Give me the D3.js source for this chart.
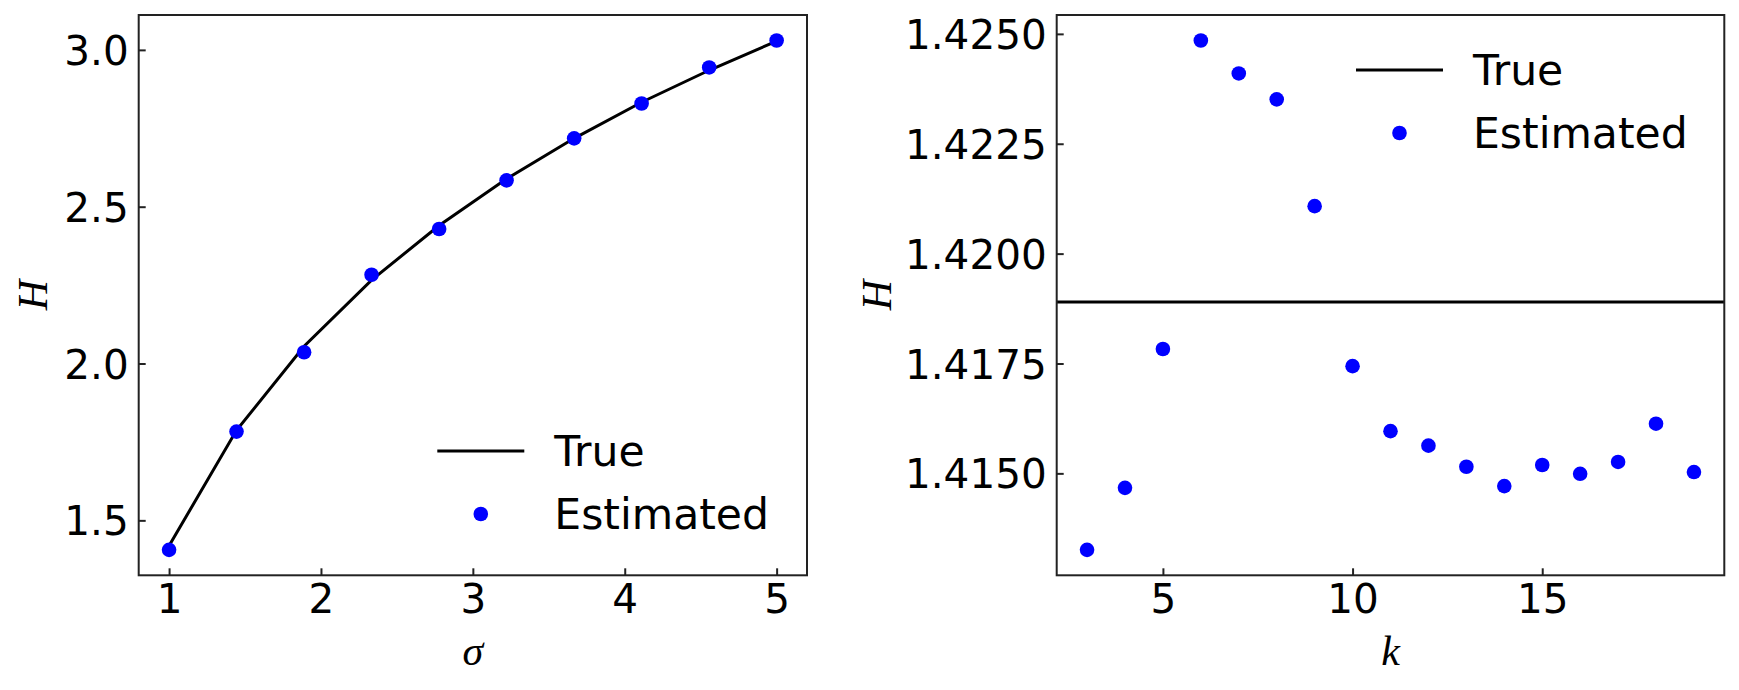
<!DOCTYPE html>
<html>
<head>
<meta charset="utf-8">
<script src="https://cdn.jsdelivr.net/npm/d3@7"></script>
<style>
    body { margin: 0; background: #fff; }
    svg { display: block; }
    .tick text { font-family: "DejaVu Sans", sans-serif; fill: #000; }
</style>
</head>
<body>
<div id="chart"></div>
<script>
// left panel: entropy H against sigma
const sigmaVals = [1, 1.444, 1.889, 2.333, 2.778, 3.222, 3.667, 4.111, 4.556, 5];
const hTrueSigma = [1.419, 1.787, 2.055, 2.266, 2.440, 2.589, 2.718, 2.833, 2.935, 3.028];
const hEstSigma = [1.406, 1.783, 2.036, 2.283, 2.429, 2.584, 2.718, 2.829, 2.944, 3.030];
const sigmaTicks = [1, 2, 3, 4, 5];
const hTicksLeft = [1.5, 2.0, 2.5, 3.0];

// right panel: entropy H against k
const kVals = [3, 4, 5, 6, 7, 8, 9, 10, 11, 12, 13, 14, 15, 16, 17, 18, 19];
const hEstK = [1.41326, 1.41467, 1.41783, 1.42485, 1.42410, 1.42351, 1.42108, 1.41744,
    1.41596, 1.41563, 1.41515, 1.41471, 1.41519, 1.41499, 1.41526, 1.41613, 1.41503];
const hTrueK = 1.4189;
const kTicks = [5, 10, 15];
const hTicksRight = [1.4150, 1.4175, 1.4200, 1.4225, 1.4250];

const W = 1739, H = 690;
const svg = d3.select("#chart").append("svg")
    .attr("width", W)
    .attr("height", H);

function padded(lo, hi) {
    // matplotlib style 5% margins
    const m = (hi - lo) * 0.05;
    return [lo - m, hi + m];
}

function drawPanel(o) {
    const box = o.box;
    const x = d3.scaleLinear().domain(o.xDomain).range([box.left, box.right]);
    const y = d3.scaleLinear().domain(o.yDomain).range([box.bottom, box.top]);
    const g = svg.append("g");

    const xAxis = d3.axisBottom(x).tickValues(o.xTicks).tickFormat(o.xFmt)
        .tickSizeInner(-7).tickSizeOuter(0).tickPadding(9);
    const yAxis = d3.axisLeft(y).tickValues(o.yTicks).tickFormat(o.yFmt)
        .tickSizeInner(-7).tickSizeOuter(0).tickPadding(10);

    const gx = g.append("g")
        .attr("transform", `translate(0,${box.bottom})`)
        .call(xAxis);
    const gy = g.append("g")
        .attr("transform", `translate(${box.left},0)`)
        .call(yAxis);
    [gx, gy].forEach(a => {
        a.select(".domain").remove();
        a.selectAll(".tick line").attr("stroke", "#222").attr("stroke-width", 2);
        a.selectAll(".tick text").style("font-size", "40.5px");
    });
    gy.selectAll(".tick text").attr("dy", "0.36em");

    // data
    if (o.lineData) {
        g.append("path")
            .datum(o.lineData)
            .attr("fill", "none")
            .attr("stroke", "#000")
            .attr("stroke-width", 3)
            .attr("d", d3.line().x(d => x(d[0])).y(d => y(d[1])));
    }
    if (o.hline !== undefined) {
        g.append("line")
            .attr("x1", box.left).attr("x2", box.right)
            .attr("y1", y(o.hline)).attr("y2", y(o.hline))
            .attr("stroke", "#000")
            .attr("stroke-width", 3);
    }
    g.append("g").selectAll("circle")
        .data(o.points)
        .join("circle")
        .attr("cx", d => x(d[0]))
        .attr("cy", d => y(d[1]))
        .attr("r", 7.3)
        .attr("fill", "#0000ff");

    // frame
    g.append("rect")
        .attr("x", box.left).attr("y", box.top)
        .attr("width", box.right - box.left)
        .attr("height", box.bottom - box.top)
        .attr("fill", "none")
        .attr("stroke", "#222")
        .attr("stroke-width", 2);

    // axis labels
    g.append("text")
        .attr("x", (box.left + box.right) / 2)
        .attr("y", 665)
        .attr("text-anchor", "middle")
        .style("font-family", "'Liberation Serif', serif")
        .style("font-style", "italic")
        .style("font-size", "42px")
        .text(o.xLabel);
    g.append("text")
        .attr("transform", `translate(${o.yLabelX},${(box.top + box.bottom) / 2}) rotate(-90)`)
        .attr("text-anchor", "middle")
        .style("font-family", "'Liberation Serif', serif")
        .style("font-style", "italic")
        .style("font-size", "42px")
        .text("H");

    // legend
    const lg = g.append("g").attr("transform", `translate(${o.legend[0]},${o.legend[1]})`);
    lg.append("line")
        .attr("x1", 0).attr("x2", 87)
        .attr("y1", 0).attr("y2", 0)
        .attr("stroke", "#000").attr("stroke-width", 3);
    lg.append("circle")
        .attr("cx", 43.5).attr("cy", 63)
        .attr("r", 7.3).attr("fill", "#0000ff");
    ["True", "Estimated"].forEach((t, i) => {
        lg.append("text")
            .attr("x", 117)
            .attr("y", 14.5 + i * 63)
            .style("font-family", "'DejaVu Sans', sans-serif")
            .style("font-size", "42.5px")
            .text(t);
    });
}

const leftBox = {left: 138.7, right: 807, top: 15, bottom: 575.3};
const rightBox = {left: 1056.7, right: 1724.3, top: 15, bottom: 575.3};

drawPanel({
    box: leftBox,
    xDomain: [0.8, 5.2],
    yDomain: padded(d3.min(hEstSigma), d3.max(hEstSigma)),
    xTicks: sigmaTicks, xFmt: d3.format("d"),
    yTicks: hTicksLeft, yFmt: d3.format(".1f"),
    lineData: sigmaVals.map((s, i) => [s, hTrueSigma[i]]),
    points: sigmaVals.map((s, i) => [s, hEstSigma[i]]),
    xLabel: "σ",
    yLabelX: 47,
    legend: [leftBox.right - 369.7, leftBox.bottom - 124.3]
});

drawPanel({
    box: rightBox,
    xDomain: [2.2, 19.8],
    yDomain: padded(d3.min(hEstK), d3.max(hEstK)),
    xTicks: kTicks, xFmt: d3.format("d"),
    yTicks: hTicksRight, yFmt: d3.format(".4f"),
    hline: hTrueK,
    points: kVals.map((k, i) => [k, hEstK[i]]),
    xLabel: "k",
    yLabelX: 890.5,
    legend: [rightBox.right - 368.3, rightBox.top + 55]
});
</script>
</body>
</html>
